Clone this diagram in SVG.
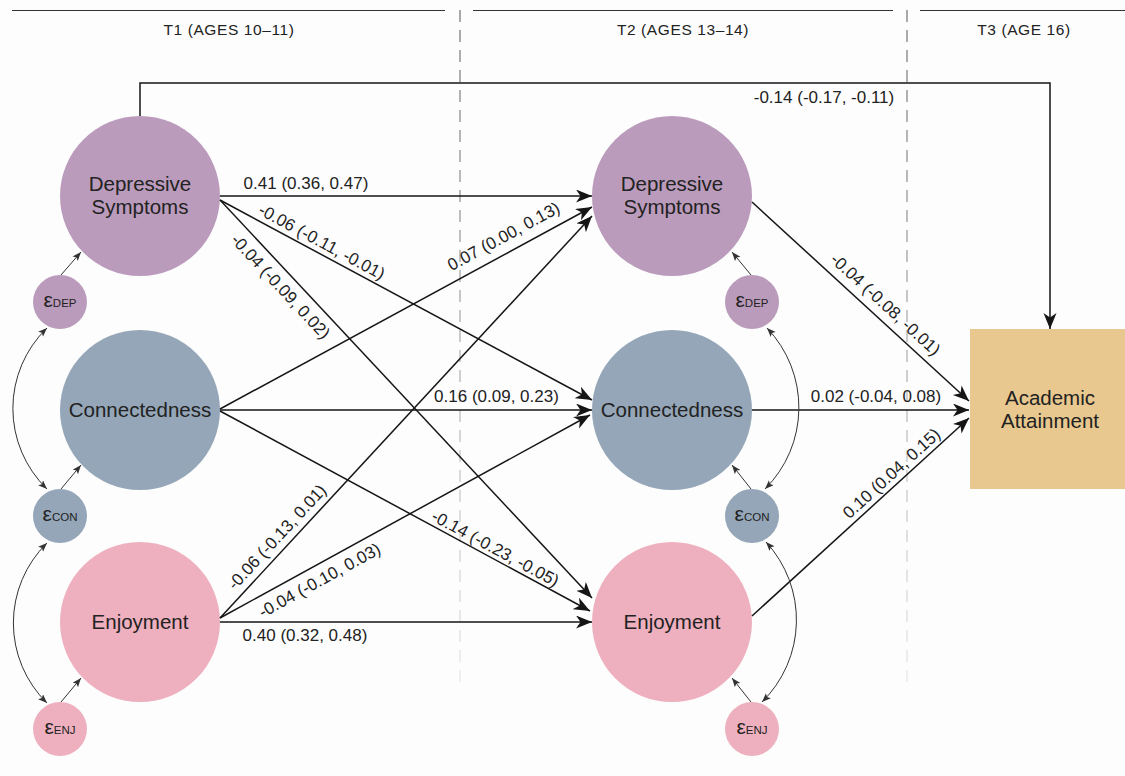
<svg xmlns="http://www.w3.org/2000/svg" width="1125" height="776" viewBox="0 0 1125 776">
<defs>
<style>
text{font-family:"Liberation Sans",Arial,sans-serif;fill:#222}
.hdr{font-size:15.5px;text-anchor:middle;letter-spacing:0.6px}
.nl{font-size:20.5px;text-anchor:middle}
.el{font-size:17px;text-anchor:middle}
.err{text-anchor:middle}
.eps{font-size:21px}
.sub{font-size:11.5px}
.dep{fill:#BB9BBB}
.con{fill:#94A6B7}
.enj{fill:#EEB0BE}
.aa{fill:#E8C88E}
.main{stroke:#151515;stroke-width:1.5;fill:none;marker-end:url(#big)}
.thin{stroke:#333;stroke-width:1;fill:none;marker-end:url(#small)}
.cov{stroke:#333;stroke-width:1;fill:none;marker-start:url(#small);marker-end:url(#small)}
.rule{stroke:#333;stroke-width:1}
.dash{stroke:url(#dg);stroke-width:1.5;stroke-dasharray:12 8}
</style>
<marker id="big" markerUnits="userSpaceOnUse" markerWidth="17" markerHeight="14" refX="16" refY="6.5" orient="auto">
<path d="M0,0 L16,6.5 L0,13 L4.5,6.5 Z" fill="#151515"/>
</marker>
<marker id="small" markerUnits="userSpaceOnUse" markerWidth="10" markerHeight="8" refX="9" refY="3.5" orient="auto-start-reverse">
<path d="M0,0 L9,3.5 L0,7 L2,3.5 Z" fill="#333"/>
</marker>
<linearGradient id="dg" gradientUnits="userSpaceOnUse" x1="0" y1="10" x2="0" y2="690">
<stop offset="0" stop-color="#8c8c8c"/>
<stop offset="1" stop-color="#ececec"/>
</linearGradient>
</defs>
<rect width="1125" height="776" fill="#fdfdfd"/>
<g id="header">
<line class="rule" x1="12" y1="10.5" x2="445" y2="10.5"/>
<line class="rule" x1="473" y1="10.5" x2="893" y2="10.5"/>
<line class="rule" x1="920" y1="10.5" x2="1125" y2="10.5"/>
<line class="dash" x1="460" y1="10" x2="460" y2="690"/>
<line class="dash" x1="907" y1="10" x2="907" y2="690"/>
<text class="hdr" x="229" y="35">T1 (AGES 10–11)</text>
<text class="hdr" x="683" y="35">T2 (AGES 13–14)</text>
<text class="hdr" x="1024" y="35">T3 (AGE 16)</text>
</g>
<g id="nodes">
<g id="dep1"><circle class="dep" cx="140" cy="196" r="80"/><text class="nl" x="140" y="191">Depressive</text><text class="nl" x="140" y="214">Symptoms</text></g>
<g id="con1"><circle class="con" cx="140" cy="410" r="80"/><text class="nl" x="140" y="417">Connectedness</text></g>
<g id="enj1"><circle class="enj" cx="140" cy="622" r="80"/><text class="nl" x="140" y="629">Enjoyment</text></g>
<g id="dep2"><circle class="dep" cx="672" cy="196" r="80"/><text class="nl" x="672" y="191">Depressive</text><text class="nl" x="672" y="214">Symptoms</text></g>
<g id="con2"><circle class="con" cx="672" cy="410" r="80"/><text class="nl" x="672" y="417">Connectedness</text></g>
<g id="enj2"><circle class="enj" cx="672" cy="622" r="80"/><text class="nl" x="672" y="629">Enjoyment</text></g>
<g id="attain"><rect class="aa" x="970" y="329" width="160" height="160"/><text class="nl" x="1050" y="405">Academic</text><text class="nl" x="1050" y="428">Attainment</text></g>
<g id="edep1"><circle class="dep" cx="60" cy="302" r="27"/><text class="err" x="60" y="307"><tspan class="eps">ε</tspan><tspan class="sub">DEP</tspan></text></g>
<g id="econ1"><circle class="con" cx="60" cy="516" r="27"/><text class="err" x="60" y="521"><tspan class="eps">ε</tspan><tspan class="sub">CON</tspan></text></g>
<g id="eenj1"><circle class="enj" cx="60" cy="729" r="27"/><text class="err" x="60" y="734"><tspan class="eps">ε</tspan><tspan class="sub">ENJ</tspan></text></g>
<g id="edep2"><circle class="dep" cx="752" cy="302" r="27"/><text class="err" x="752" y="307"><tspan class="eps">ε</tspan><tspan class="sub">DEP</tspan></text></g>
<g id="econ2"><circle class="con" cx="752" cy="516" r="27"/><text class="err" x="752" y="521"><tspan class="eps">ε</tspan><tspan class="sub">CON</tspan></text></g>
<g id="eenj2"><circle class="enj" cx="752" cy="729" r="27"/><text class="err" x="752" y="734"><tspan class="eps">ε</tspan><tspan class="sub">ENJ</tspan></text></g>
</g>
<g id="connectors">
<path class="main" d="M140,116 V83 H1050 V329"/>
<line class="main" x1="220" y1="196" x2="592" y2="196"/>
<line class="main" x1="220" y1="200" x2="592" y2="400"/>
<line class="main" x1="220" y1="200" x2="592" y2="598"/>
<line class="main" x1="220" y1="409" x2="592" y2="207"/>
<line class="main" x1="220" y1="410" x2="592" y2="410"/>
<line class="main" x1="220" y1="411" x2="590" y2="611"/>
<line class="main" x1="220" y1="618" x2="592" y2="216"/>
<line class="main" x1="220" y1="618" x2="590" y2="415"/>
<line class="main" x1="220" y1="622" x2="592" y2="622"/>
<line class="main" x1="752" y1="202" x2="969" y2="401"/>
<line class="main" x1="752" y1="410" x2="969" y2="410"/>
<line class="main" x1="752" y1="616" x2="969" y2="418"/>
<line class="thin" x1="61" y1="275" x2="81" y2="252"/>
<line class="thin" x1="61" y1="489" x2="81" y2="465"/>
<line class="thin" x1="61" y1="702" x2="81" y2="678"/>
<line class="thin" x1="751" y1="275" x2="732" y2="252"/>
<line class="thin" x1="751" y1="489" x2="732" y2="465"/>
<line class="thin" x1="751" y1="702" x2="732" y2="678"/>
<path class="cov" d="M47,328 A112,112 0 0,0 47,489"/>
<path class="cov" d="M47,543 A112,112 0 0,0 47,703"/>
<path class="cov" d="M767,328 A115,115 0 0,1 765,489"/>
<path class="cov" d="M766,542 A115,115 0 0,1 762,702"/>
</g>
<g id="labels">
<text class="el" x="306" y="189">0.41 (0.36, 0.47)</text>
<text class="el" transform="translate(321.5,242.5) rotate(28.3)" y="5">-0.06 (-0.11, -0.01)</text>
<text class="el" transform="translate(280,287) rotate(47)" y="5">-0.04 (-0.09, 0.02)</text>
<text class="el" transform="translate(504,237) rotate(-28.5)" y="5">0.07 (0.00, 0.13)</text>
<text class="el" x="496.5" y="402">0.16 (0.09, 0.23)</text>
<text class="el" transform="translate(495,549) rotate(28.4)" y="5">-0.14 (-0.23, -0.05)</text>
<text class="el" transform="translate(277.5,537.5) rotate(-47.2)" y="5">-0.06 (-0.13, 0.01)</text>
<text class="el" transform="translate(320,581) rotate(-28.8)" y="5">-0.04 (-0.10, 0.03)</text>
<text class="el" x="305" y="641">0.40 (0.32, 0.48)</text>
<text class="el" transform="translate(885,305) rotate(42.5)" y="5">-0.04 (-0.08, -0.01)</text>
<text class="el" x="876" y="402">0.02 (-0.04, 0.08)</text>
<text class="el" transform="translate(892,474) rotate(-42.2)" y="5">0.10 (0.04, 0.15)</text>
<text class="el" x="824" y="103">-0.14 (-0.17, -0.11)</text>
</g>
</svg>
